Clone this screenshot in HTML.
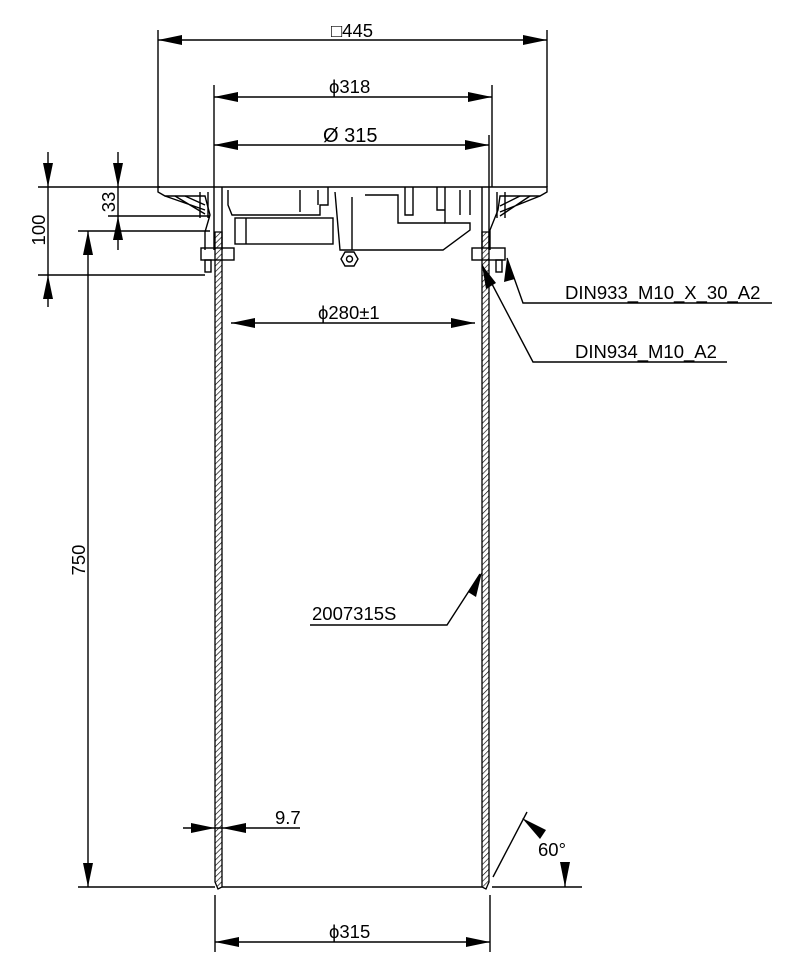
<!DOCTYPE html>
<html><head><meta charset="utf-8"><style>
html,body{margin:0;padding:0;background:#fff}
svg{display:block}
text{font-family:"Liberation Sans",Arial,sans-serif;font-size:18.5px;fill:#000}
</style></head><body>
<svg width="797" height="971" viewBox="0 0 797 971" xmlns="http://www.w3.org/2000/svg">
<defs>
<pattern id="h" width="4" height="4" patternUnits="userSpaceOnUse" patternTransform="rotate(45)">
<line x1="0" y1="0" x2="0" y2="4" stroke="#000" stroke-width="1.3"/></pattern>
</defs>
<g stroke="#000" stroke-width="1.4" fill="none">
<line x1="158" y1="30" x2="158" y2="187"/><line x1="547" y1="30" x2="547" y2="187"/>
<line x1="158" y1="40" x2="547" y2="40"/>
<line x1="214" y1="85" x2="214" y2="187"/><line x1="492" y1="85" x2="492" y2="187"/>
<line x1="214" y1="97" x2="492" y2="97"/>
<line x1="489" y1="135" x2="489" y2="187"/>
<line x1="214" y1="145" x2="489" y2="145"/>
<line x1="231" y1="323" x2="475" y2="323"/>
<line x1="215" y1="895" x2="215" y2="952"/><line x1="490" y1="895" x2="490" y2="952"/>
<line x1="215" y1="942" x2="490" y2="942"/>
<line x1="48" y1="152" x2="48" y2="307"/>
<line x1="118" y1="152" x2="118" y2="250"/>
<line x1="88" y1="231" x2="88" y2="887"/>
<line x1="38" y1="187" x2="160" y2="187"/>
<line x1="108" y1="216" x2="210" y2="216"/>
<line x1="78" y1="231" x2="210" y2="231"/>
<line x1="38" y1="275" x2="205" y2="275"/>
<line x1="78" y1="887" x2="215" y2="887"/>
<line x1="222" y1="887" x2="482" y2="887"/>
<line x1="492" y1="887" x2="582" y2="887"/>
<line x1="183" y1="828" x2="300" y2="828"/>
<line x1="493" y1="877" x2="527" y2="812"/>
<line x1="565" y1="862" x2="565" y2="887"/>
<polyline points="507,258 523,303 772,303"/>
<polyline points="482,265 533,362 727,362"/>
<polyline points="480,574 447,625 310,625"/>
<path d="M158,187 L547,187 L547,192 L540,196 L500,196 L498,210 L490,230 L490,250 M158,187 L158,192 L165,196 L205,196 L210,215 L205,232 L205,250"/>
<path d="M165,196 L205,210 M175,196 L205,214 M185,196 L205,205 M540,196 L500,212 M530,196 L500,216 M520,196 L500,206"/>
<path d="M214,187 L214,250 M222,187 L222,250 M482,187 L482,250 M489,187 L489,250"/>
<path d="M228,190 L228,205 L232,215 L320,215 L320,205 L328,205 L328,187"/>
<path d="M300,190 L300,212 M318,190 L318,205"/>
<rect x="235" y="218" width="98" height="26"/>
<path d="M246,218 L246,244"/>
<path d="M335,192 L340,250 L443,250 L470,230 L470,223 L445,223 L445,187"/>
<path d="M352,197 L352,250 M365,195 L398,195 L398,223 L445,223"/>
<path d="M405,187 L405,215 L413,215 L413,187 M437,187 L437,210 L445,210 M460,190 L460,215 M470,190 L470,215"/>
<path d="M200,192 L200,218 M208,192 L208,218 M497,192 L497,218 M505,192 L505,218"/>
<polygon points="345,252 354,252 358,259 354,266 345,266 341,259"/>
<circle cx="349.5" cy="259" r="3"/>
<rect x="201" y="248" width="33" height="12"/>
<rect x="472" y="248" width="33" height="12"/>
<rect x="205" y="260" width="6" height="12"/>
<rect x="496" y="260" width="6" height="12"/>
</g>
<g stroke="#000" stroke-width="1.3">
<path d="M215,232 L222,232 L222,887 L218,889 L215,882 Z" fill="url(#h)"/>
<path d="M482,232 L489,232 L489,882 L486,889 L482,887 Z" fill="url(#h)"/>
</g>
<g fill="#000">
<polygon points="158,40 182,35 182,45"/><polygon points="547,40 523,35 523,45"/>
<polygon points="214,97 238,92 238,102"/><polygon points="492,97 468,92 468,102"/>
<polygon points="214,145 238,140 238,150"/><polygon points="489,145 465,140 465,150"/>
<polygon points="231,323 255,318 255,328"/><polygon points="475,323 451,318 451,328"/>
<polygon points="215,942 239,937 239,947"/><polygon points="490,942 466,937 466,947"/>
<polygon points="48,187 43,163 53,163"/><polygon points="48,275 43,299 53,299"/>
<polygon points="118,187 113,163 123,163"/><polygon points="118,216 113,240 123,240"/>
<polygon points="88,231 83,255 93,255"/><polygon points="88,887 83,863 93,863"/>
<polygon points="215,828 191,823 191,833"/><polygon points="222,828 246,823 246,833"/>
<polygon points="565,887 560,862 570,862"/>
<polygon points="522,818 546,830 540,839"/>
<polygon points="507,258 504,282 515,279"/>
<polygon points="482,265 486,289 496,283"/>
<polygon points="482,572 468,592 476,597"/>
</g>
<text x="331" y="37">□445</text>
<text x="329" y="93">ϕ318</text>
<text x="323" y="142" style="font-size:20px">Ø 315</text>
<text x="318" y="319">ϕ280±1</text>
<text x="329" y="938">ϕ315</text>
<text x="275" y="824">9.7</text>
<text x="538" y="856">60°</text>
<text x="565" y="299">DIN933_M10_X_30_A2</text>
<text x="575" y="358">DIN934_M10_A2</text>
<text x="312" y="620">2007315S</text>
<text transform="translate(45,230) rotate(-90)" text-anchor="middle">100</text>
<text transform="translate(115,202) rotate(-90)" text-anchor="middle">33</text>
<text transform="translate(85,560) rotate(-90)" text-anchor="middle">750</text>
</svg>
</body></html>
